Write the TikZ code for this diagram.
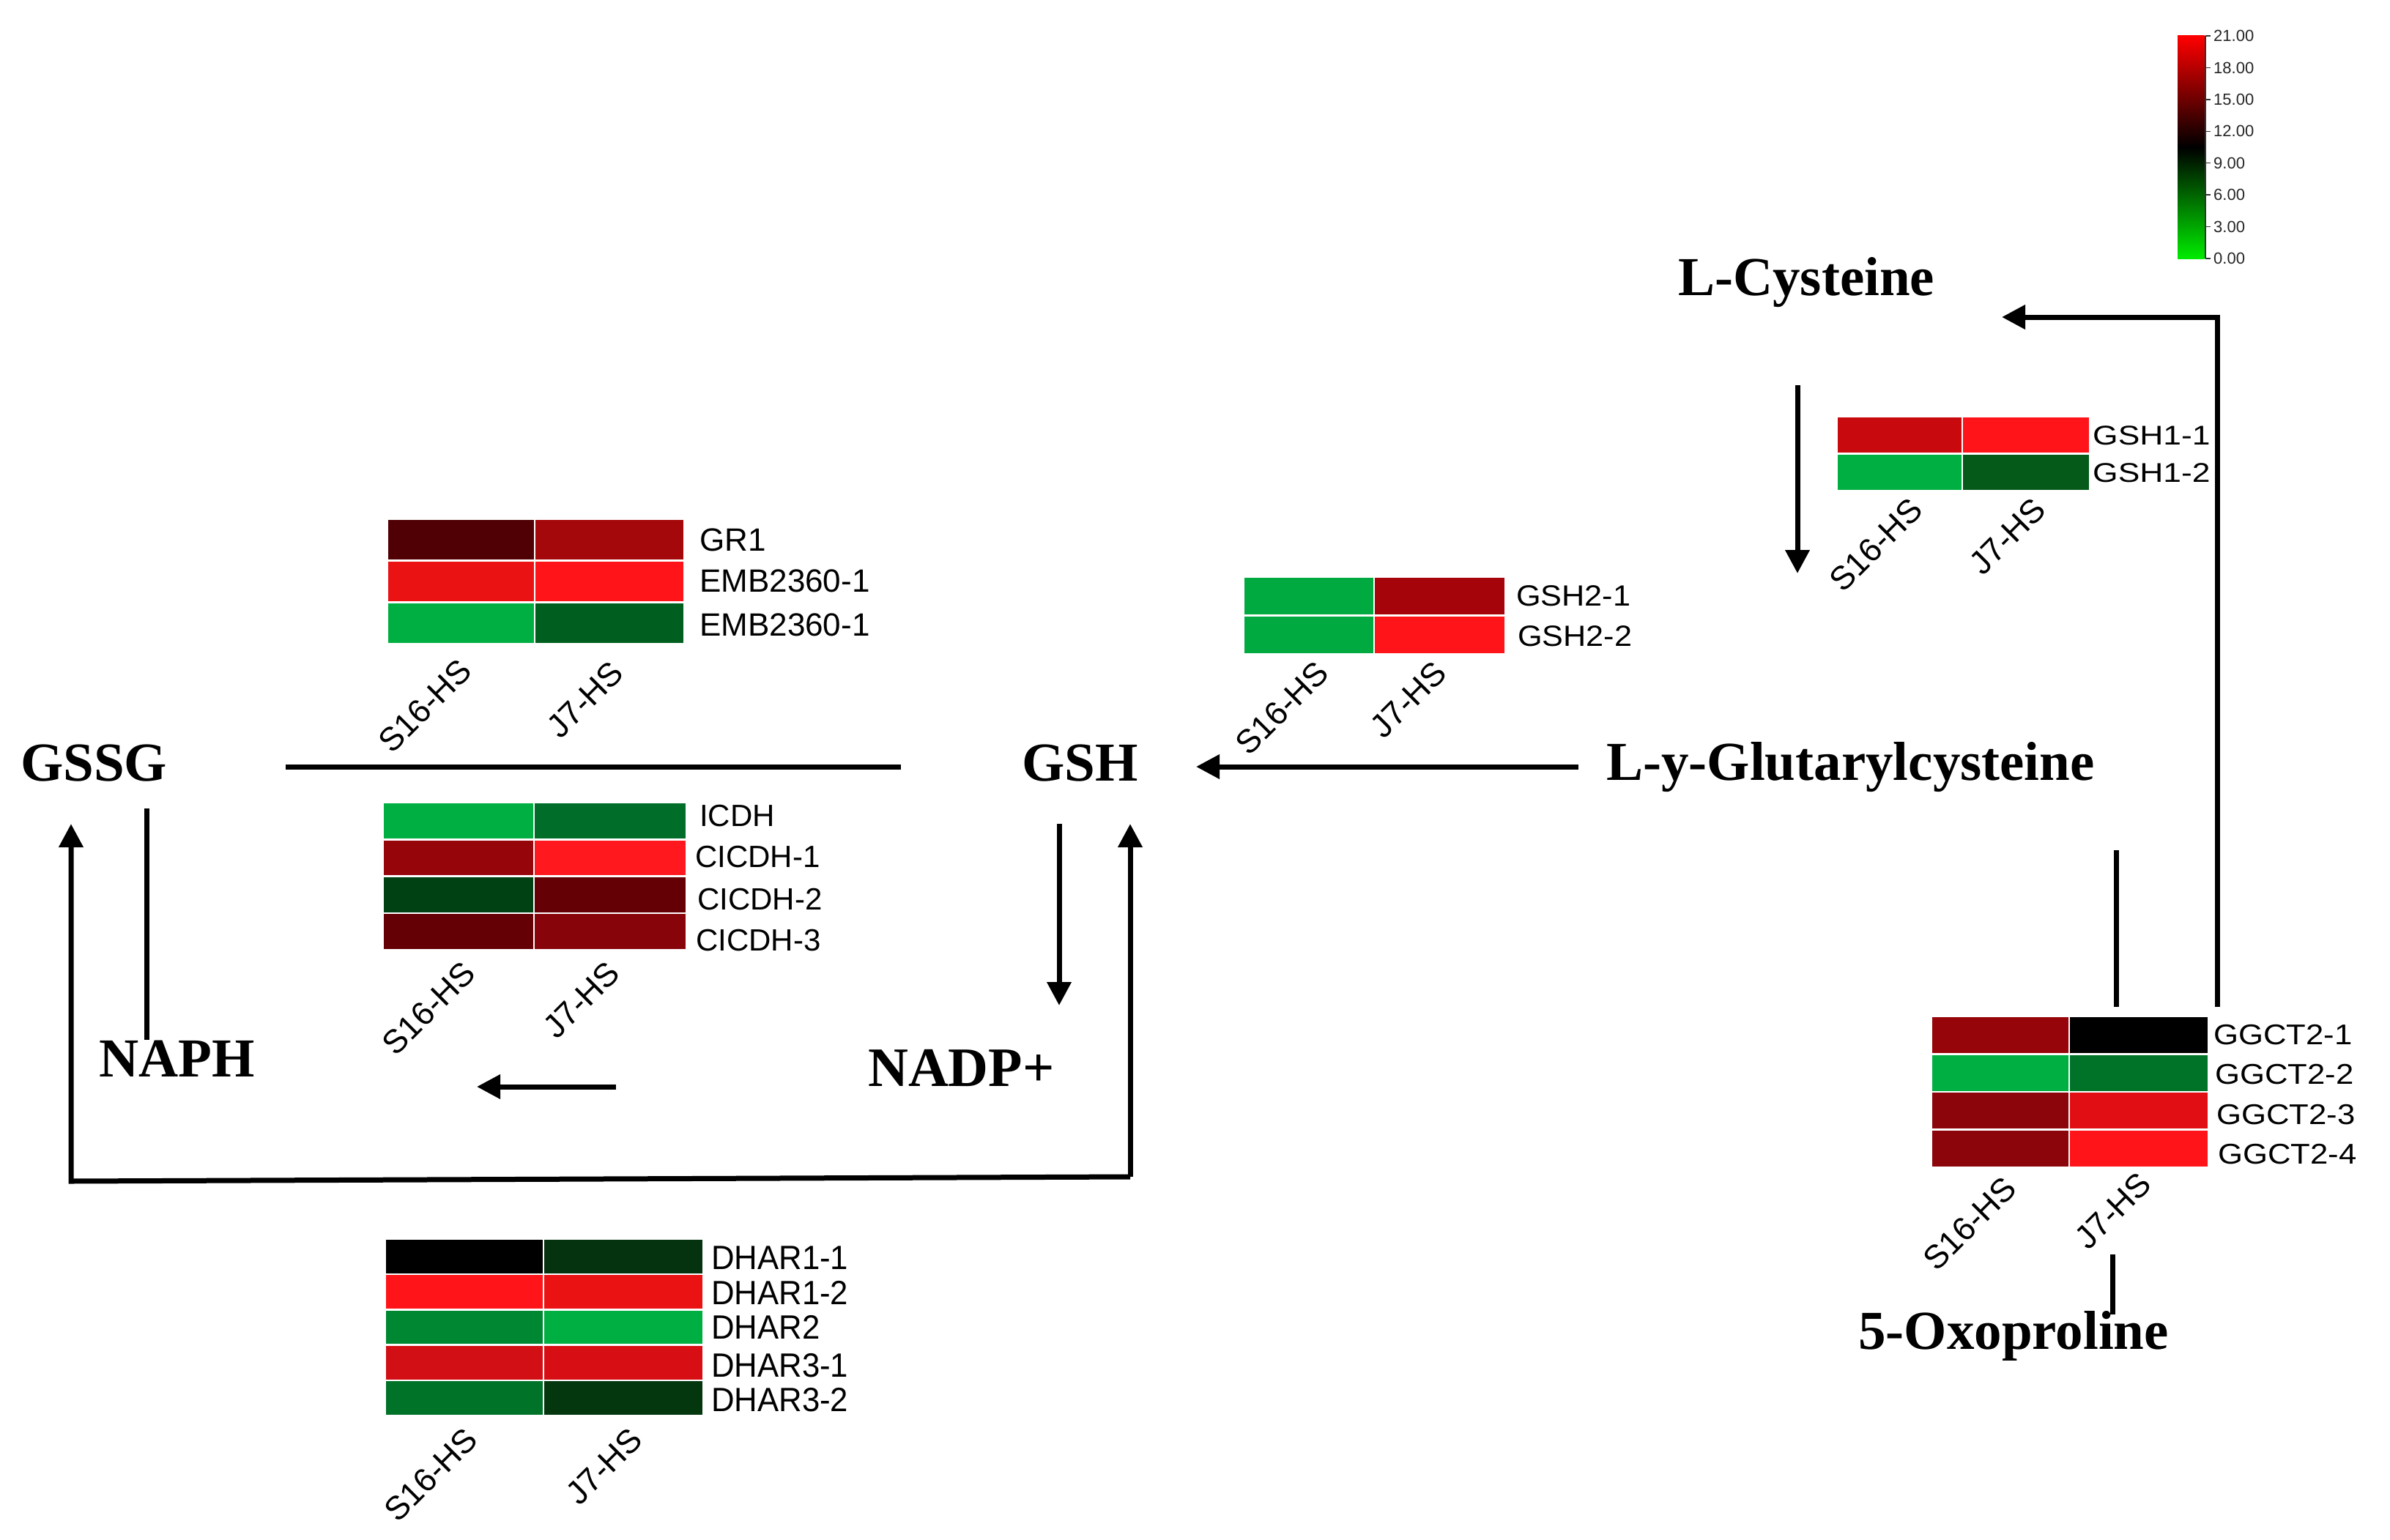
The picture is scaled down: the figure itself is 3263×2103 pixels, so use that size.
\documentclass[tikz,border=0pt]{standalone}
\usepackage{fontspec}
\setmainfont{Liberation Serif}
\newfontfamily\arialf{Liberation Sans}
\usetikzlibrary{arrows.meta}

% heatmap: #1 x0, #2 xmid, #3 x1, #4 ytop, #5 row height, #6 list colA/colB (HTML)
\newcommand\hmap[6]{%
  \foreach \ca/\cb [count=\i from 0] in {#6}{%
    \pgfmathsetmacro\ya{#4+\i*#5}%
    \pgfmathsetmacro\yb{#4+(\i+1)*#5}%
    \definecolor{hca}{HTML}{\ca}\definecolor{hcb}{HTML}{\cb}%
    \path[fill=hca,draw=white,line width=2.5pt] (#1,\ya) rectangle (#2,\yb);
    \path[fill=hcb,draw=white,line width=2.5pt] (#2,\ya) rectangle (#3,\yb);
  }}

\tikzset{
  lnk/.style={line width=7pt},
  arr/.style={line width=7pt,-{Triangle[width=32pt,length=32pt]}},
  met/.style={font=\bfseries\fontsize{75}{75}\selectfont, inner sep=0pt, anchor=base west},
  rowlab/.style={inner sep=0pt, anchor=base west},
  collab/.style={font=\arialf\fontsize{45}{45}\selectfont, rotate=45, anchor=east, inner sep=0pt},
}

\begin{document}
\begin{tikzpicture}[x=1pt,y=-1pt]
\useasboundingbox[fill=white] (0,0) rectangle (3263,2103);

% ---------- metabolites ----------
\node[met] (gssg) at (28,1066) {GSSG};
\node[met] (naph) at (135,1470) {NAPH};
\node[met] (gsh) at (1395,1066) {GSH};
\node[met,font=\bfseries\fontsize{76}{76}\selectfont] (nadp) at (1185,1483) {NADP+};
\node[met] (lcys) at (2291,403) {L-Cysteine};
\node[met] (lglu) at (2193,1065) {L-y-Glutarylcysteine};
\node[met] (oxo) at (2537,1842) {5-Oxoproline};

% ---------- connector end points ----------
\coordinate (gg1) at (390,1047);
\coordinate (gg2) at (1230,1047);
\coordinate (np1) at (200,1104);
\coordinate (np2) at (200,1420);
\coordinate (bl) at (97,1613);
\coordinate (br) at (1543,1607);
\coordinate (gssgin) at (97,1125);
\coordinate (gshin) at (1543,1125);
\coordinate (gshout1) at (1446,1125);
\coordinate (gshout2) at (1446,1373);
\coordinate (na1) at (841,1484);
\coordinate (na2) at (651,1484);
\coordinate (lg1) at (2155,1047);
\coordinate (lg2) at (1633,1047);
\coordinate (rv1) at (3027,1375);
\coordinate (rv2) at (3027,433);
\coordinate (lc) at (2733,433);
\coordinate (cd1) at (2454,526);
\coordinate (cd2) at (2454,783);
\coordinate (gv1) at (2889,1161);
\coordinate (gv2) at (2889,1375);
\coordinate (ox1) at (2884,1713);
\coordinate (ox2) at (2884,1795);

% ---------- connectors ----------
\draw[lnk] (gg1) -- (gg2);
\draw[lnk] (np1) -- (np2);
\draw[arr,line join=miter] (br) -- (bl) -- (gssgin);
\draw[arr] (br) -- (gshin);
\draw[arr] (gshout1) -- (gshout2);
\draw[arr] (na1) -- (na2);
\draw[arr] (lg1) -- (lg2);
\draw[arr,line join=miter] (rv1) -- (rv2) -- (lc);
\draw[arr] (cd1) -- (cd2);
\draw[lnk] (gv1) -- (gv2);
\draw[lnk] (ox1) -- (ox2);

% ---------- heatmaps ----------
\hmap{529}{730}{934}{709}{56.67}{500005/A5080A, EB1214/FF1419, 00AF41/005F1E}
\hmap{523}{729}{937}{1096}{50.25}{00AF41/006E28, 96050A/FF191E, 004114/640005, 640005/87050A}
\hmap{526}{742}{960}{1692}{48.2}{000000/05320F, FF1419/EB1214, 008732/00AF41, D20F14/D70F14, 007328/05370F}
\hmap{1698}{1876}{2055}{788}{52.5}{00AA41/A5050A, 00AA41/FF1419}
\hmap{2508}{2679}{2853}{569}{50.5}{C80A0F/FF1419, 00AF41/055A19}
\hmap{2637}{2825}{3015}{1388}{51.5}{96050A/000000, 00AF41/007328, 8C050A/E10F14, 8C050A/FF1419}

% row labels
\begin{scope}[every node/.style={rowlab,font=\arialf\fontsize{44}{44}\selectfont}]
\node (gr1) at (955,752) {GR1};
\node (emb1) at (955,808) {EMB2360-1};
\node (emb2) at (955,868) {EMB2360-1};
\end{scope}
\begin{scope}[every node/.style={rowlab,font=\arialf\fontsize{42}{42}\selectfont}]
\node (icdh) at (955,1128) {ICDH};
\node (cicdh1) at (949,1184) {CICDH-1};
\node (cicdh2) at (952,1242) {CICDH-2};
\node (cicdh3) at (950,1298) {CICDH-3};
\end{scope}
\begin{scope}[every node/.style={rowlab,font=\arialf\fontsize{46}{46}\selectfont}]
\node (dhar11) at (971,1733) {\scalebox{0.95}[1]{DHAR1-1}};
\node (dhar12) at (971,1781) {\scalebox{0.95}[1]{DHAR1-2}};
\node (dhar2) at (971,1828) {\scalebox{0.95}[1]{DHAR2}};
\node (dhar31) at (971,1880) {\scalebox{0.95}[1]{DHAR3-1}};
\node (dhar32) at (971,1927) {\scalebox{0.95}[1]{DHAR3-2}};
\end{scope}
\begin{scope}[every node/.style={rowlab,font=\arialf\fontsize{40}{40}\selectfont}]
\node (gsh21) at (2070,827) {\scalebox{1.08}[1]{GSH2-1}};
\node (gsh22) at (2072,882) {\scalebox{1.08}[1]{GSH2-2}};
\end{scope}
\begin{scope}[every node/.style={rowlab,font=\arialf\fontsize{37}{37}\selectfont}]
\node (gsh11) at (2857,607) {\scalebox{1.2}[1]{GSH1-1}};
\node (gsh12) at (2857,658) {\scalebox{1.2}[1]{GSH1-2}};
\end{scope}
\begin{scope}[every node/.style={rowlab,font=\arialf\fontsize{39}{39}\selectfont}]
\node (ggct1) at (3022,1426) {\scalebox{1.12}[1]{GGCT2-1}};
\node (ggct2) at (3024,1480) {\scalebox{1.12}[1]{GGCT2-2}};
\node (ggct3) at (3026,1535) {\scalebox{1.12}[1]{GGCT2-3}};
\node (ggct4) at (3028,1589) {\scalebox{1.12}[1]{GGCT2-4}};
\end{scope}

% column labels
\node[collab] (c1a) at (636,908) {S16-HS};
\node[collab] (c1b) at (843,911) {J7-HS};
\node[collab] (c2a) at (641,1321) {S16-HS};
\node[collab] (c2b) at (838,1321) {J7-HS};
\node[collab] (c3a) at (644,1958) {S16-HS};
\node[collab] (c3b) at (869,1958) {J7-HS};
\node[collab] (c4a) at (1806,911) {S16-HS};
\node[collab] (c4b) at (1967,911) {J7-HS};
\node[collab] (c5a) at (2617,688) {S16-HS};
\node[collab] (c5b) at (2785,688) {J7-HS};
\node[collab] (c6a) at (2745,1615) {S16-HS};
\node[collab] (c6b) at (2929,1609) {J7-HS};

% ---------- colour bar ----------
\shade[top color=red, bottom color={rgb,255:red,0;green,235;blue,0}, middle color=black]
  (2973,49) rectangle (3010,353);
\draw[line width=1.5pt,black!80] (3011,49) -- (3011,353);
\foreach \v [count=\k from 0] in {21.00,18.00,15.00,12.00,9.00,6.00,3.00,0.00}{
  \draw[line width=1.5pt,black!80] (3011,49+\k*43.43) -- (3018,49+\k*43.43);
  \node[inner sep=0pt,anchor=west,font=\arialf\fontsize{22}{22}\selectfont,text=black!85]
    (cb\k) at (3022,49+\k*43.43) {\v};
}
\end{tikzpicture}
\end{document}
